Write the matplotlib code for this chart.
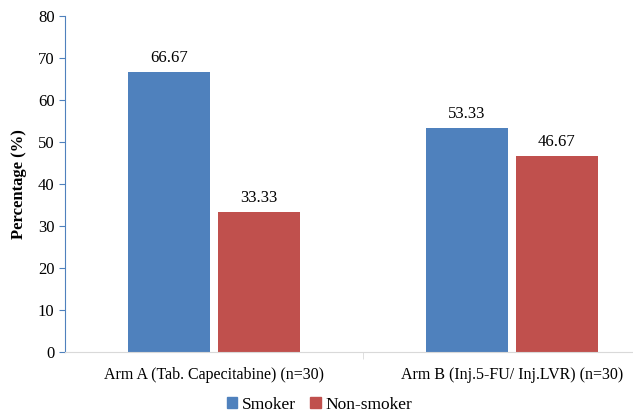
import numpy as np
import matplotlib.pyplot as plt
from matplotlib.patches import Patch

plt.rcParams["font.family"] = ["Liberation Serif", "DejaVu Serif"]

categories = ["Arm A (Tab. Capecitabine) (n=30)", "Arm B (Inj.5-FU/ Inj.LVR) (n=30)"]
smoker = [66.67, 53.33]
non_smoker = [33.33, 46.67]

BLUE = "#4f81bd"
RED = "#c0504d"

fig = plt.figure(figsize=(6.33, 4.17), dpi=100)
ax = fig.add_axes([65 / 633, 1 - 352 / 417, 596 / 633, 336 / 417])

x = np.arange(len(categories))
w = 0.275
off = 0.151
b1 = ax.bar(x - off, smoker, w, color=BLUE)
b2 = ax.bar(x + off, non_smoker, w, color=RED)

for bars, vals in [(b1, smoker), (b2, non_smoker)]:
    for b, v in zip(bars, vals):
        ax.text(b.get_x() + b.get_width() / 2, v + 1.5, f"{v:.2f}",
                ha="center", va="bottom", fontsize=12)

ax.set_xlim(-0.5, 1.5)
ax.set_ylim(0, 80)
ax.set_yticks(range(0, 81, 10))
ax.set_xticks(x)
ax.set_xticklabels(categories, fontsize=11.5)
ax.tick_params(axis="x", length=0, pad=11)
ax.set_xticks([0.5], minor=True)
ax.tick_params(axis="x", which="minor", length=5, color="#d9d9d9")
ax.tick_params(axis="y", labelsize=12, length=4, color=BLUE)

for s in ["top", "right"]:
    ax.spines[s].set_visible(False)
ax.spines["left"].set_color(BLUE)
ax.spines["bottom"].set_color("#d9d9d9")

ax.set_ylabel("Percentage (%)", fontsize=12, fontweight="bold", labelpad=8)

handles = [Patch(color=BLUE, label="Smoker"), Patch(color=RED, label="Non-smoker")]
leg = fig.legend(handles=handles, loc="center", bbox_to_anchor=(0.505, 1 - 405 / 417),
                 ncol=2, frameon=False, fontsize=12.5,
                 handlelength=0.6, handleheight=0.6, handletextpad=0.3, columnspacing=0.8)
for t in leg.get_texts():
    t.set_fontfamily("Liberation Serif")

fig.savefig("out.png", dpi=100)
